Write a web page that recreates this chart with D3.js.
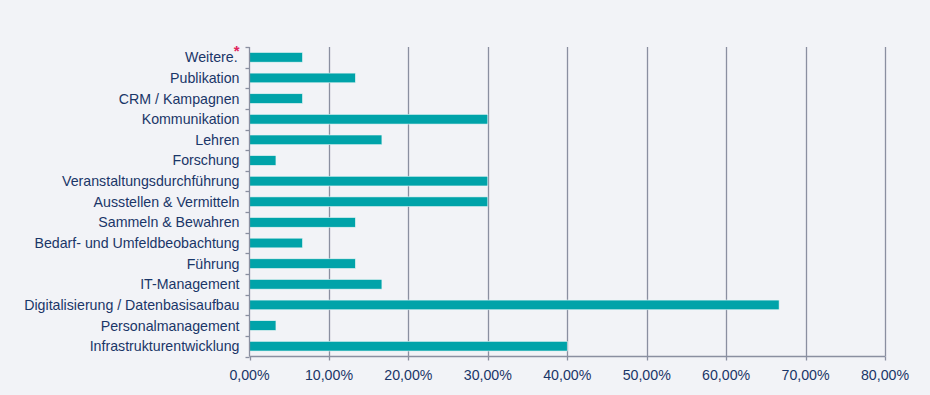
<!DOCTYPE html>
<html><head><meta charset="utf-8">
<script src="https://cdn.jsdelivr.net/npm/d3@7"></script>
<style>
html,body{margin:0;padding:0;background:#F2F3F7;}
svg{display:block;font-family:"Liberation Sans",Arial,sans-serif;}
</style></head>
<body><svg id="c" width="930" height="395"></svg>
<script>
const categories = ["Weitere","Publikation","CRM / Kampagnen","Kommunikation","Lehren","Forschung","Veranstaltungsdurchführung","Ausstellen & Vermitteln","Sammeln & Bewahren","Bedarf- und Umfeldbeobachtung","Führung","IT-Management","Digitalisierung / Datenbasisaufbau","Personalmanagement","Infrastrukturentwicklung"];
const values = [6.67,13.33,6.67,30,16.67,3.33,30,30,13.33,6.67,13.33,16.67,66.67,3.33,40];
const xTicks = [0,10,20,30,40,50,60,70,80];

const svg = d3.select("#c");
const m = {left:249.5, right:885, top:47, bottom:356.5};
const x = d3.scaleLinear().domain([0,80]).range([m.left,m.right]);
const y = d3.scaleBand().domain(categories).range([m.top,m.bottom]).paddingInner(0.53).paddingOuter(0.265);
const band = d3.scaleBand().domain(categories).range([m.top,m.bottom]);
const gridCol = "#8A8FA0", textCol = "#1A3668";

// gridlines
svg.append("g").selectAll("line").data(xTicks.slice(1)).join("line")
  .attr("x1",d=>Math.round(x(d))+0.5).attr("x2",d=>Math.round(x(d))+0.5)
  .attr("y1",m.top).attr("y2",m.bottom)
  .attr("stroke",gridCol).attr("stroke-width",1.3);

// bars
svg.append("g").selectAll("rect").data(categories).join("rect")
  .attr("x",x(0)).attr("y",d=>y(d))
  .attr("width",(d,i)=>x(values[i])-x(0)).attr("height",y.bandwidth())
  .attr("fill","#00A3A9").attr("stroke","#E8F6F6").attr("stroke-width",0.6);

// y axis
const ya = svg.append("g").attr("transform",`translate(${Math.round(x(0))-0.5},0)`);
ya.append("line").attr("y1",m.top).attr("y2",m.bottom).attr("stroke",gridCol).attr("stroke-width",1.3);
const bounds = categories.map(c=>band(c)).concat([m.bottom]);
ya.selectAll("line.t").data(bounds).join("line").attr("class","t")
  .attr("x1",-4).attr("x2",0).attr("y1",d=>Math.round(d)+0.5).attr("y2",d=>Math.round(d)+0.5)
  .attr("stroke",gridCol).attr("stroke-width",1.3);
const lbl = ya.selectAll("text").data(categories).join("text")
  .attr("x",-10).attr("y",d=>band(d)+band.bandwidth()/2).attr("dy","0.35em")
  .attr("text-anchor","end").attr("font-size",14.2).attr("fill",textCol)
  .text(d=>d==="Weitere"?null:d);
const w = lbl.filter(d=>d==="Weitere");
w.append("tspan").text("Weitere.");
w.append("tspan").text("*").attr("fill","#E0245E").attr("dx",-4).attr("dy",-6).attr("font-size",15).attr("font-weight","bold");

// x axis
const xa = svg.append("g").attr("transform",`translate(0,${Math.round(m.bottom)-0.5})`);
xa.append("line").attr("x1",x(0)).attr("x2",x(80)).attr("stroke",gridCol).attr("stroke-width",1.3);
xa.selectAll("line.t").data(xTicks).join("line").attr("class","t")
  .attr("x1",d=>Math.round(x(d))+0.5).attr("x2",d=>Math.round(x(d))+0.5).attr("y1",0).attr("y2",4)
  .attr("stroke",gridCol).attr("stroke-width",1.3);
xa.selectAll("text").data(xTicks).join("text")
  .attr("x",d=>x(d)).attr("y",23).attr("text-anchor","middle")
  .attr("font-size",14.2).attr("fill",textCol)
  .text(d=>d3.format(".2f")(d).replace(".",",")+"%");
</script></body></html>
